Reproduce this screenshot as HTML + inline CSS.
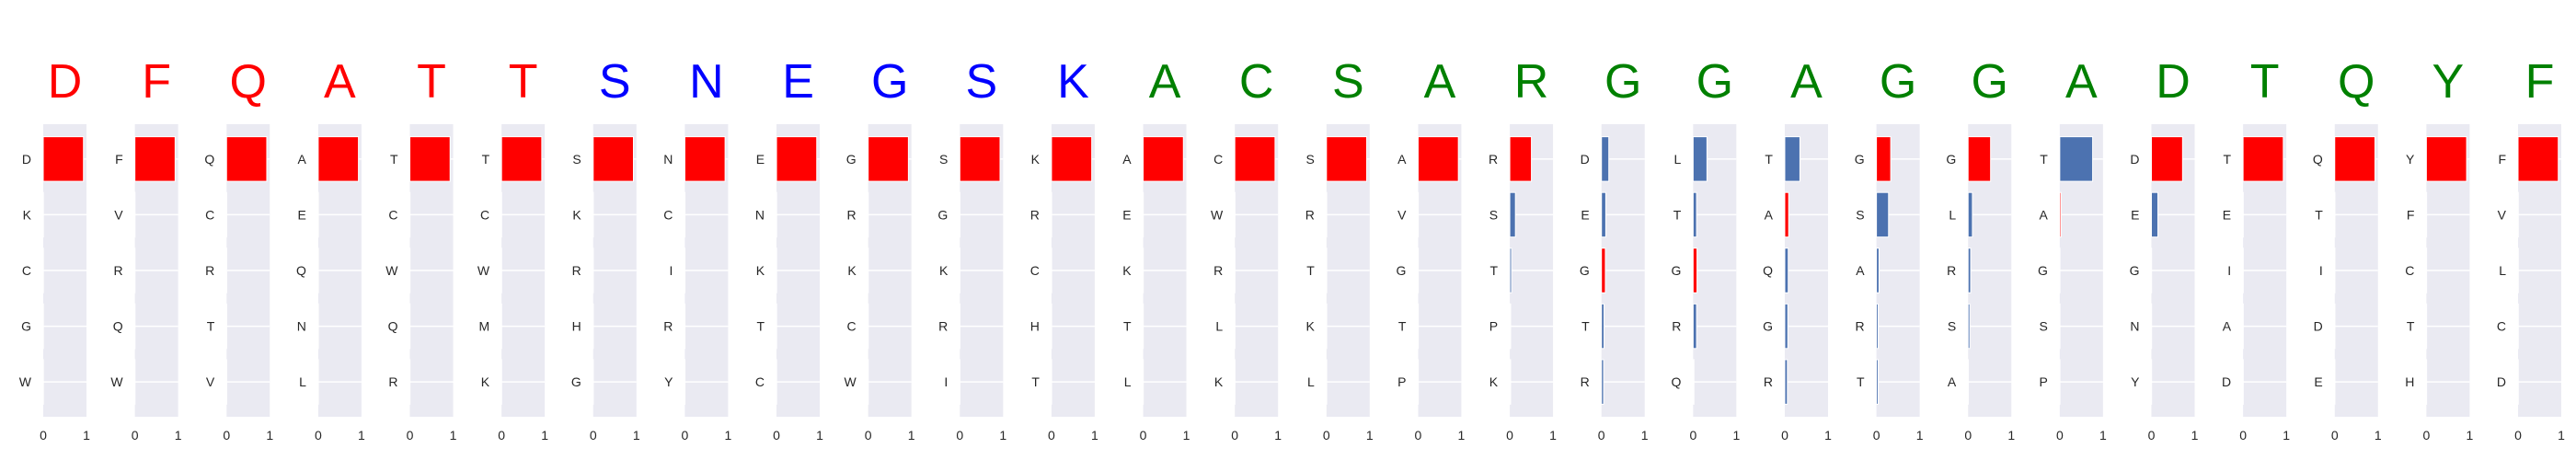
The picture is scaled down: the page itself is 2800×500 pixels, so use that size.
<!DOCTYPE html>
<html><head><meta charset="utf-8"><style>
html,body{margin:0;padding:0;background:#fff;}
svg{display:block;font-family:"Liberation Sans","DejaVu Sans",sans-serif;}
</style></head><body>
<svg id="chart" width="2800" height="500" viewBox="0 0 2800 500" xmlns="http://www.w3.org/2000/svg"></svg>
<script>
const titles = ["D","F","Q","A","T","T","S","N","E","G","S","K","A","C","S","A","R","G","G","A","G","G","A","D","T","Q","Y","F"];
const titleColors = ["#ff0000","#ff0000","#ff0000","#ff0000","#ff0000","#ff0000","#0000ff","#0000ff","#0000ff","#0000ff","#0000ff","#0000ff","#008000","#008000","#008000","#008000","#008000","#008000","#008000","#008000","#008000","#008000","#008000","#008000","#008000","#008000","#008000","#008000"];
const labels = [
["D","K","C","G","W"],["F","V","R","Q","W"],["Q","C","R","T","V"],["A","E","Q","N","L"],
["T","C","W","Q","R"],["T","C","W","M","K"],["S","K","R","H","G"],["N","C","I","R","Y"],
["E","N","K","T","C"],["G","R","K","C","W"],["S","G","K","R","I"],["K","R","C","H","T"],
["A","E","K","T","L"],["C","W","R","L","K"],["S","R","T","K","L"],["A","V","G","T","P"],
["R","S","T","P","K"],["D","E","G","T","R"],["L","T","G","R","Q"],["T","A","Q","G","R"],
["G","S","A","R","T"],["G","L","R","S","A"],["T","A","G","S","P"],["D","E","G","N","Y"],
["T","E","I","A","D"],["Q","T","I","D","E"],["Y","F","C","T","H"],["F","V","L","C","D"]];
const values = [
[0.93,0.004,0.003,0.003,0.003],[0.93,0.003,0.003,0.003,0.003],[0.93,0.003,0.003,0.003,0.003],[0.93,0.003,0.003,0.003,0.003],
[0.93,0.003,0.003,0.003,0.003],[0.93,0.003,0.003,0.003,0.003],[0.93,0.003,0.003,0.003,0.003],[0.93,0.003,0.003,0.003,0.003],
[0.93,0.003,0.003,0.003,0.003],[0.93,0.003,0.003,0.003,0.003],[0.93,0.003,0.003,0.003,0.003],[0.93,0.003,0.003,0.003,0.003],
[0.93,0.003,0.003,0.003,0.003],[0.93,0.003,0.003,0.003,0.003],[0.93,0.005,0.005,0.005,0.005],[0.93,0.003,0.003,0.003,0.003],
[0.50,0.13,0.04,0.02,0.02],[0.17,0.10,0.09,0.06,0.05],[0.32,0.08,0.09,0.08,0.02],[0.35,0.09,0.08,0.07,0.06],
[0.33,0.28,0.06,0.04,0.04],[0.52,0.10,0.06,0.04,0.005],[0.76,0.03,0.005,0.005,0.005],[0.72,0.15,0.005,0.005,0.005],
[0.93,0.005,0.005,0.005,0.005],[0.93,0.005,0.005,0.005,0.005],[0.93,0.005,0.005,0.005,0.005],[0.93,0.005,0.005,0.005,0.005]];
const xTicks = [0,1];

const NS="http://www.w3.org/2000/svg";
const svg=document.getElementById('chart');
const L0=47, STEP=99.63, AW=47, AT=135, AH=318;
const YMIN=-0.625, YMAX=4.625;
function xScale(i,v){return L0+i*STEP+v*AW;}
function yScale(k){return AT+(k-YMIN)/(YMAX-YMIN)*AH;}
const unit=AH/(YMAX-YMIN);
function mk(tag,attrs,parent){const e=document.createElementNS(NS,tag);for(const k in attrs)e.setAttribute(k,attrs[k]);(parent||svg).appendChild(e);return e;}

titles.forEach((t,i)=>{
  const g=mk('g',{});
  
  
  const bg=mk('rect',{x:xScale(i,0),y:AT,width:AW,height:AH,fill:'#eaeaf2'},g);
  
  
  for(let k=0;k<5;k++){
    const gl=mk('line',{x1:xScale(i,0),x2:xScale(i,1),y1:yScale(k),y2:yScale(k),stroke:'#fff','stroke-width':1.5},g);
    
    
  }
  const tt=mk('text',{x:xScale(i,0.5),y:106,'text-anchor':'middle','font-size':52,fill:titleColors[i]},g);
  tt.textContent=t;
  
  
  labels[i].forEach((lab,k)=>{
    const v=values[i][k];
    const b=mk('rect',{x:xScale(i,0),y:yScale(k)-0.4*unit,width:Math.max(0,xScale(i,v)-xScale(i,0)),height:0.8*unit,fill:lab===t?'#ff0000':'#4c72b0',stroke:'#fff','stroke-width':1},g);
    
    
    const yl=mk('text',{x:xScale(i,0)-13,y:yScale(k)+5,'text-anchor':'end','font-size':14,fill:'#262626'},g);
    yl.textContent=lab;
    
    
  });
  xTicks.forEach(tv=>{
    const xl=mk('text',{x:xScale(i,tv),y:478,'text-anchor':'middle','font-size':14,fill:'#262626'},g);
    xl.textContent=String(tv);
    
    
  });
});
</script>
</body></html>
